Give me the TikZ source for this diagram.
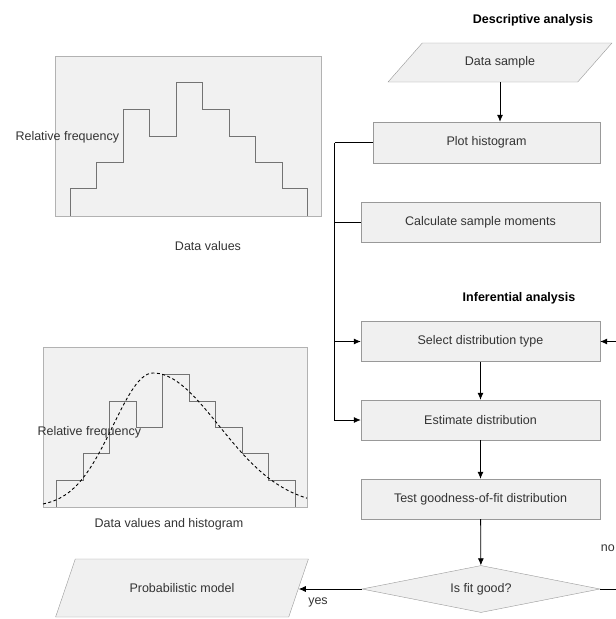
\documentclass[tikz,border=0pt]{standalone}
\usepackage{fontspec}
\setmainfont{Liberation Sans}
\usetikzlibrary{arrows.meta}
\usetikzlibrary{shapes.geometric}

\begin{document}
\begin{tikzpicture}[x=1pt,y=-1pt,
    font=\fontsize{12.5}{15}\selectfont, text=black!80,
    procbox/.style={draw=gray!80, fill=gray!12, minimum height=40, inner sep=0pt},
    iobox/.style={trapezium, draw=gray!80, fill=gray!12, trapezium stretches=true, inner sep=0pt},
    decision/.style={diamond, draw=gray!80, fill=gray!12, aspect=5, inner sep=0pt},
    heading/.style={font=\fontsize{12.5}{15}\selectfont\bfseries, text=black},
    panel/.style={draw=gray!60, fill=gray!11},
    bars/.style={draw=black!55, line width=0.9pt},
    link/.style={line width=0.8pt},
    arrow/.style={link, -{Latex[length=7pt,width=6pt]}}]
      \useasboundingbox (0,0) rectangle (616,619);

      % first panel: histogram only
      \draw[panel] (55,56) rectangle (321,216);
      \draw[bars] (70,216) -- (70,188) -- (96,188) -- (96,162) -- (123,162) -- (123,109) -- (149,109)
        -- (149,136) -- (176,136) -- (176,82) -- (202,82) -- (202,109) -- (229,109) -- (229,136)
        -- (255,136) -- (255,162) -- (282,162) -- (282,188) -- (307,188) -- (307,216);
      \node[anchor=west] (freqA) at (12,137) {Relative frequency};
      \node (valuesA) at (208,246) {Data values};

      % second panel: histogram and fitted curve
      \draw[panel] (43,347) rectangle (307,507);
      \draw[bars] (56,507) -- (56,480) -- (83,480) -- (83,453) -- (109,453) -- (109,401) -- (136,401)
        -- (136,427) -- (162,427) -- (162,374) -- (189,374) -- (189,401) -- (215,401) -- (215,427)
        -- (242,427) -- (242,453) -- (268,453) -- (268,480) -- (295,480) -- (295,507);
      \draw[line width=0.9pt, dash pattern=on 3pt off 2.5pt]
        plot[domain=43:153, samples=40] (\x, {507-134*exp(-0.5*((\x-153)/40)^2)})
        -- plot[domain=153:307, samples=50] (\x, {507-134*exp(-0.5*((\x-153)/66)^2)});
      \node[anchor=west] (freqB) at (34,432) {Relative frequency};
      \node (valuesB) at (169,524) {Data values and histogram};

      % flow chart
      \node[heading] (desc) at (533,20) {Descriptive analysis};
      \node[iobox, trapezium left angle=37, trapezium right angle=143,
        minimum width=224, minimum height=39] (sample) at (500,62.5) {Data sample};
      \node[procbox, minimum width=227, minimum height=41] (hist) at (486.5,142.5) {Plot histogram};
      \node[procbox, minimum width=239] (moments) at (480.5,222) {Calculate sample moments};

      \node[heading] (infer) at (519,298) {Inferential analysis};
      \node[procbox, minimum width=239] (select) at (480.5,341.5) {Select distribution type};
      \node[procbox, minimum width=239] (estimate) at (480.5,420) {Estimate distribution};
      \node[procbox, minimum width=239] (test) at (480.5,499) {Test goodness-of-fit distribution};
      \node[decision, minimum width=238, minimum height=47] (fit) at (481,589) {Is fit good?};
      \node[iobox, trapezium left angle=43.5, trapezium right angle=136.5,
        minimum width=253, minimum height=58] (model) at (182,588) {Probabilistic model};

      \node (yes) at (318,602) {yes};
      \node[anchor=east, inner xsep=1pt] (no) at (616,548) {no};

      \draw[arrow] (sample.south) -- (sample.south |- hist.north);
      \draw[link] (hist.west) -- ++(-38,0) coordinate (trunk);
      \draw[arrow] (trunk) |- (estimate.west);
      \draw[link] (moments.west) -- (moments.west -| trunk);
      \draw[arrow] (select.west -| trunk) -- (select.west);
      \draw[arrow] (select) -- (estimate);
      \draw[arrow] (estimate) -- (test);
      \draw[arrow] (test) -- (fit);
      \draw[arrow] (fit.west) -- (fit.west -| model.east);
      \draw[arrow] (fit.east) -- ++(40,0) |- (select.east);

    \end{tikzpicture}
\end{document}
